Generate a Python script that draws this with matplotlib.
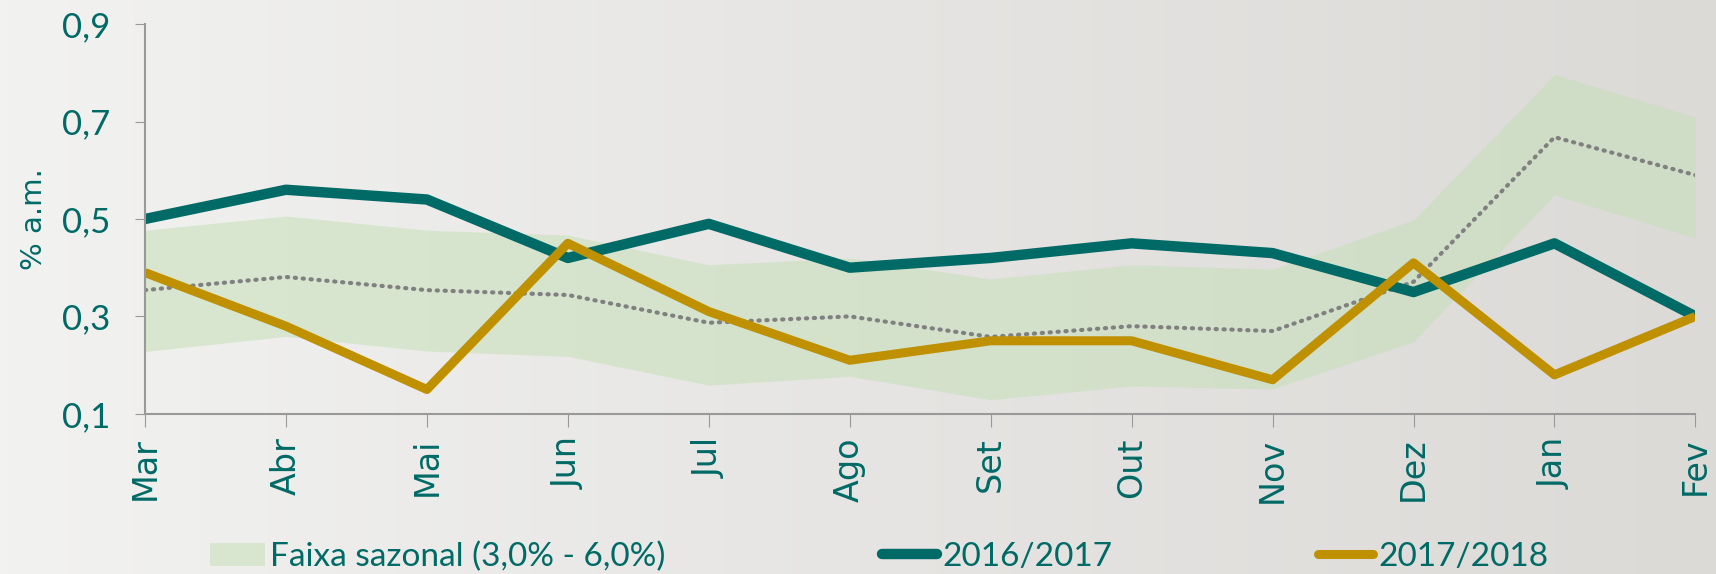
import matplotlib.pyplot as plt
import numpy as np
from matplotlib.colors import LinearSegmentedColormap
from matplotlib.lines import Line2D
from matplotlib.patches import Patch

meses = ['Mar', 'Abr', 'Mai', 'Jun', 'Jul', 'Ago', 'Set', 'Out', 'Nov', 'Dez', 'Jan', 'Fev']
s_2016_2017 = [0.50, 0.56, 0.54, 0.42, 0.49, 0.40, 0.42, 0.45, 0.43, 0.35, 0.45, 0.30]
s_2017_2018 = [0.39, 0.28, 0.15, 0.45, 0.31, 0.21, 0.25, 0.25, 0.17, 0.41, 0.18, 0.30]
mediana = [0.354, 0.381, 0.354, 0.344, 0.287, 0.30, 0.258, 0.28, 0.27, 0.371, 0.668, 0.59]
faixa_sup = [0.477, 0.506, 0.477, 0.467, 0.406, 0.42, 0.377, 0.406, 0.397, 0.498, 0.797, 0.709]
faixa_inf = [0.228, 0.259, 0.229, 0.218, 0.159, 0.177, 0.129, 0.157, 0.151, 0.248, 0.549, 0.461]
y_ticks = [0.1, 0.3, 0.5, 0.7, 0.9]

TEAL = '#006a66'
GOLD = '#bf9000'
BAND = '#c6dfb8'
NARROW = ['Lato', 'DejaVu Sans']

fig = plt.figure(figsize=(17.16, 5.74), dpi=100)

# fundo cinza claro em degradê
bg = fig.add_axes([0, 0, 1, 1], zorder=-10)
grad = np.linspace(0, 1, 256).reshape(1, -1)
cmap = LinearSegmentedColormap.from_list('bg', ['#f2f2f0', '#e6e5e3', '#dcdad7'])
bg.imshow(grad, aspect='auto', cmap=cmap, extent=[0, 1, 0, 1])
bg.axis('off')

ax = fig.add_axes([0.0845, 0.279, 0.9035, 0.679])
ax.patch.set_alpha(0)
x = np.arange(len(meses))

ax.fill_between(x, faixa_inf, faixa_sup, color=BAND, alpha=0.55, lw=0)
ax.plot(x, mediana, color='#808080', lw=3, ls=(0, (0.3, 1.6)), dash_capstyle='round')
ax.plot(x, s_2016_2017, color=TEAL, lw=7.5, solid_capstyle='butt')
ax.plot(x, s_2017_2018, color=GOLD, lw=6.5, solid_capstyle='butt')

ax.set_xlim(0, len(meses) - 1)
ax.set_ylim(0.1, 0.9)
ax.set_yticks(y_ticks)
ax.set_yticklabels([f'{v:.1f}'.replace('.', ',') for v in y_ticks],
                   family=NARROW, fontsize=25, color=TEAL)
ax.set_xticks(x)
ax.set_xticklabels(meses, rotation=90, fontsize=24, color=TEAL, fontfamily='DejaVu Sans')
ax.tick_params(axis='y', length=7, color='#999999', pad=18)
ax.tick_params(axis='x', length=9, color='#999999', pad=8)
for side in ['top', 'right']:
    ax.spines[side].set_visible(False)
for side in ['left', 'bottom']:
    ax.spines[side].set_color('#999999')
    ax.spines[side].set_linewidth(1.5)
ax.set_ylabel('% a.m.', fontsize=21, color=TEAL, labelpad=10, fontfamily='DejaVu Sans')

# legenda: três entradas em posições fixas
entradas = [
    (Patch(color=BAND, alpha=0.55, lw=0), 'Faixa sazonal (3,0% - 6,0%)', 0.1224),
    (Line2D([], [], color=TEAL, lw=7.5, solid_capstyle='round'), '2016/2017', 0.514),
    (Line2D([], [], color=GOLD, lw=6.5, solid_capstyle='round'), '2017/2018', 0.768),
]
for handle, rotulo, xpos in entradas:
    leg = fig.legend([handle], [rotulo], loc='center left', bbox_to_anchor=(xpos, 0.03),
                     frameon=False, prop={'family': NARROW, 'size': 24},
                     handlelength=1.65, handletextpad=0.15, borderaxespad=0, borderpad=0)
    for t in leg.get_texts():
        t.set_color(TEAL)

fig.savefig('out.png', dpi=100)
